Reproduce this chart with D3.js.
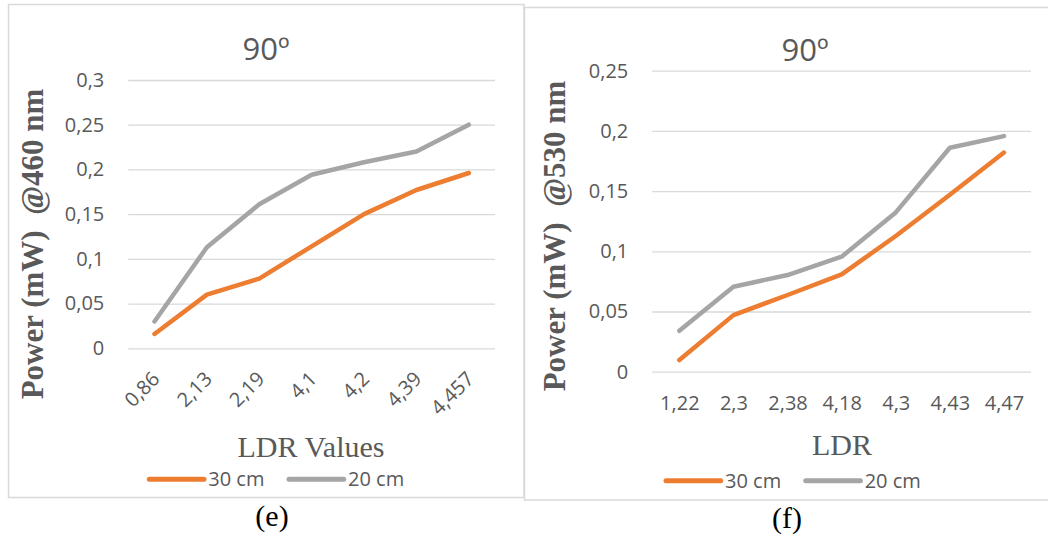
<!DOCTYPE html>
<html>
<head>
<meta charset="utf-8">
<script src="https://cdn.jsdelivr.net/npm/d3@7"></script>
<style>
  body { margin: 0; background: #fff; }
  svg { display: block; }
</style>
</head>
<body>
<svg id="chart" width="1048" height="538"></svg>
<script>
// Data
const seriesNames = ["30 cm", "20 cm"];
const seriesColors = ["#ED7D31", "#A5A5A5"];

const catsE = ["0,86", "2,13", "2,19", "4,1", "4,2", "4,39", "4,457"];
const e30 = [0.016, 0.060, 0.078, 0.114, 0.150, 0.177, 0.196];
const e20 = [0.030, 0.113, 0.161, 0.194, 0.208, 0.220, 0.250];
const ticksE = [0, 0.05, 0.1, 0.15, 0.2, 0.25, 0.3];

const catsF = ["1,22", "2,3", "2,38", "4,18", "4,3", "4,43", "4,47"];
const f30 = [0.0097, 0.047, 0.0637, 0.0808, 0.1127, 0.147, 0.182];
const f20 = [0.034, 0.0706, 0.0803, 0.0955, 0.1323, 0.186, 0.1957];
const ticksF = [0, 0.05, 0.1, 0.15, 0.2, 0.25];

const svg = d3.select("#chart");
const grey = "#595959";
const sans = "'Open Sans', sans-serif";
const serif = "'Liberation Serif', 'Times New Roman', serif";
const fmt = d => String(d).replace(".", ",");

function drawPanel(p) {
    // frame
    svg.append("rect")
        .attr("x", p.box[0]).attr("y", p.box[1])
        .attr("width", p.box[2]).attr("height", p.box[3])
        .attr("fill", "none")
        .attr("stroke", "#D9D9D9")
        .attr("stroke-width", 1.5);

    const x = d3.scalePoint()
        .domain(p.cats)
        .range([p.left, p.right])
        .padding(0.5);

    const y = d3.scaleLinear()
        .domain([0, d3.max(p.ticks)])
        .range([p.bottom, p.top]);

    // y axis + gridlines
    const ya = svg.append("g")
        .attr("transform", "translate(" + p.left + ",0)")
        .call(d3.axisLeft(y).tickValues(p.ticks).tickFormat(fmt)
            .tickSize(-(p.right - p.left)).tickPadding(24));
    ya.select(".domain").remove();
    ya.selectAll("line").attr("stroke", "#D9D9D9").attr("stroke-width", 1.3);
    ya.selectAll("text").attr("fill", grey)
        .style("font-family", sans).style("font-size", "20px");

    // x axis
    const xa = svg.append("g")
        .attr("transform", "translate(0," + p.bottom + ")")
        .call(d3.axisBottom(x).tickSize(0).tickPadding(24));
    xa.select(".domain").remove();
    const xt = xa.selectAll("text").attr("fill", grey)
        .style("font-family", sans).style("font-size", "20px");
    if (p.rotate) {
        xt.attr("x", 0).attr("y", 0).attr("dy", "0.35em")
            .attr("text-anchor", "end")
            .attr("transform", "translate(1,27) rotate(-45)");
    }

    // lines
    const line = d3.line()
        .x((d, i) => x(p.cats[i]))
        .y(d => y(d));
    p.series.forEach((s, i) => {
        svg.append("path")
            .datum(s)
            .attr("d", line)
            .attr("fill", "none")
            .attr("stroke", seriesColors[i])
            .attr("stroke-width", 4.5)
            .attr("stroke-linejoin", "round")
            .attr("stroke-linecap", "round");
    });

    // title
    svg.append("text")
        .attr("x", p.titlePos[0]).attr("y", p.titlePos[1])
        .attr("text-anchor", "middle")
        .attr("fill", grey)
        .style("font-family", sans).style("font-size", "31px")
        .text("90º");

    // y title
    svg.append("text")
        .attr("transform", "translate(" + p.yTitlePos[0] + "," + p.yTitlePos[1] + ") rotate(-90)")
        .attr("text-anchor", "middle")
        .attr("fill", grey)
        .style("font-family", serif).style("font-size", "31px").style("font-weight", "bold")
        .style("white-space", "pre")
        .text(p.yTitle);

    // x title
    svg.append("text")
        .attr("x", p.xTitlePos[0]).attr("y", p.xTitlePos[1])
        .attr("text-anchor", "middle")
        .attr("fill", grey)
        .style("font-family", serif).style("font-size", "30px")
        .text(p.xTitle);

    // legend
    seriesNames.forEach((name, i) => {
        const lx = p.legend[0] + i * 139.7;
        svg.append("line")
            .attr("x1", lx).attr("x2", lx + 54.7)
            .attr("y1", p.legend[1]).attr("y2", p.legend[1])
            .attr("stroke", seriesColors[i])
            .attr("stroke-width", 5)
            .attr("stroke-linecap", "round");
        svg.append("text")
            .attr("x", lx + 59).attr("y", p.legend[1] + 7)
            .attr("fill", grey)
            .style("font-family", sans).style("font-size", "20px")
            .text(name);
    });

    // caption
    svg.append("text")
        .attr("x", p.caption[0]).attr("y", p.caption[1])
        .attr("text-anchor", "middle")
        .attr("fill", "#000")
        .style("font-family", serif).style("font-size", "30px")
        .text(p.captionText);
}

drawPanel({
    box: [8.5, 4.5, 515.5, 493],
    cats: catsE, series: [e30, e20], ticks: ticksE,
    left: 128.3, right: 495, top: 80, bottom: 348.3,
    rotate: true,
    titlePos: [266, 60],
    yTitle: "Power (mW)  @460 nm", yTitlePos: [43, 244],
    xTitle: "LDR Values", xTitlePos: [311, 457],
    legend: [149.3, 479.3],
    caption: [272, 526], captionText: "(e)"
});

drawPanel({
    box: [524.5, 7.5, 530, 492.5],
    cats: catsF, series: [f30, f20], ticks: ticksF,
    left: 652.3, right: 1031, top: 70.7, bottom: 371.7,
    rotate: false,
    titlePos: [805, 61],
    yTitle: "Power (mW)  @530 nm", yTitlePos: [565, 236],
    xTitle: "LDR", xTitlePos: [842, 455],
    legend: [666, 480.7],
    caption: [787, 528], captionText: "(f)"
});
</script>
</body>
</html>
